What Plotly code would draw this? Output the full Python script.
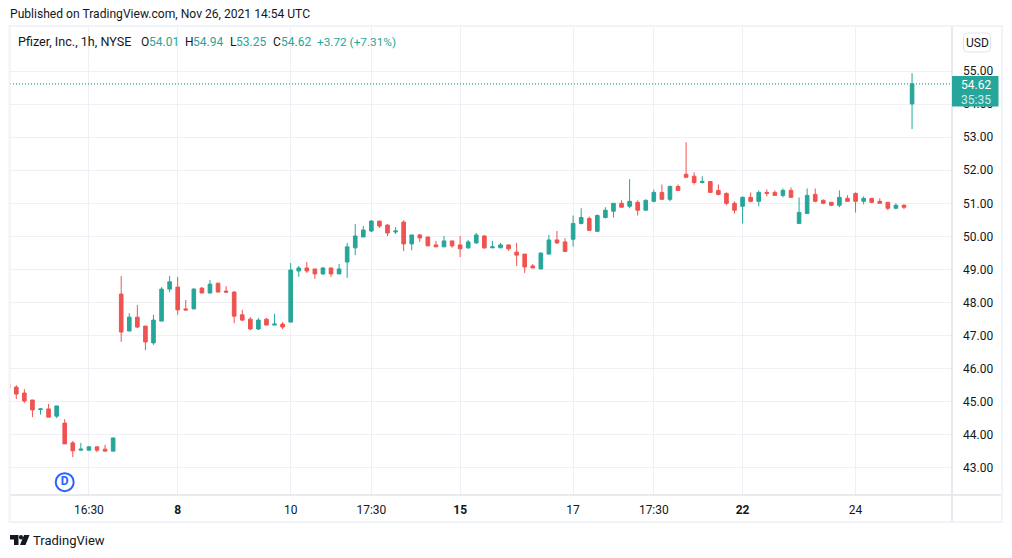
import plotly.graph_objects as go

bar_index = list(range(-1, 112))
opens = [45.52,
 45.43,45.25,45.04,44.75,44.77,44.55,44.34,43.74,43.52,43.52,
 43.62,43.55,43.49,48.25,47.13,47.55,47.28,46.77,47.43,48.40,
 48.46,47.80,47.80,48.43,48.28,48.58,48.34,48.31,47.62,47.49,
 47.19,47.49,47.31,47.34,47.40,48.95,49.04,49.01,48.86,49.04,
 48.86,49.22,49.65,49.98,50.16,50.46,50.34,50.13,50.43,49.77,
 50.04,49.98,49.74,49.68,49.86,49.74,49.65,49.80,50.01,49.65,
 49.65,49.74,49.52,49.46,49.10,49.01,49.46,49.89,49.83,49.91,
 50.39,50.54,50.15,50.57,50.76,51.00,50.91,51.03,50.79,51.06,
 51.33,51.12,51.51,51.88,51.82,51.63,51.66,51.39,51.30,51.00,
 50.91,51.18,51.06,51.33,51.33,51.24,51.39,50.39,50.69,51.27,
 51.09,51.03,50.94,51.15,51.30,51.06,51.15,51.06,51.03,50.85,
 50.94,54.01]
highs = [45.55,
 45.49,45.37,45.04,44.80,44.92,44.86,44.46,43.80,43.74,43.64,
 43.62,43.68,43.89,48.80,47.67,47.92,47.28,47.62,48.46,48.80,
 48.77,48.07,48.43,48.46,48.68,48.58,48.49,48.34,47.77,47.55,
 47.52,47.52,47.65,47.40,49.19,49.10,49.22,49.01,49.07,49.04,
 49.16,49.80,50.37,50.31,50.49,50.46,50.37,50.28,50.49,50.04,
 50.07,49.98,49.86,50.01,49.86,50.01,49.89,50.10,50.04,49.86,
 49.80,49.74,49.80,49.46,49.16,49.52,50.04,50.16,49.94,50.63,
 50.85,50.60,50.66,50.88,51.00,51.09,51.73,51.09,51.12,51.42,
 51.57,51.54,51.57,52.85,51.94,51.82,51.66,51.57,51.33,51.06,
 51.21,51.33,51.39,51.42,51.39,51.45,51.48,51.18,51.45,51.45,
 51.12,51.03,51.39,51.24,51.33,51.21,51.15,51.15,51.03,51.00,
 50.97,54.94]
lows = [45.40,
 45.07,44.95,44.52,44.60,44.52,44.49,43.71,43.31,43.50,43.50,
 43.46,43.49,43.49,46.80,47.13,47.22,46.55,46.71,47.43,48.31,
 47.62,47.74,47.80,48.28,48.28,48.31,48.28,47.37,47.43,47.16,
 47.16,47.31,47.31,47.19,47.40,48.77,48.89,48.71,48.83,48.77,
 48.86,48.74,49.43,49.98,50.13,50.25,50.01,50.07,49.55,49.58,
 49.83,49.71,49.68,49.68,49.65,49.37,49.62,49.77,49.62,49.65,
 49.65,49.56,49.10,48.89,49.04,49.01,49.46,49.77,49.54,49.69,
 50.36,50.18,50.15,50.54,50.57,50.88,50.85,50.63,50.79,51.03,
 51.12,51.06,51.39,51.76,51.57,51.60,51.33,51.24,50.94,50.69,
 50.39,51.03,50.91,51.21,51.24,51.18,51.18,50.39,50.69,51.03,
 50.97,50.91,50.88,51.06,50.72,50.97,51.00,51.00,50.79,50.82,
 50.82,53.25]
closes = [45.40,
 45.22,45.01,44.74,44.77,44.52,44.86,43.71,43.50,43.55,43.62,
 43.52,43.49,43.89,47.10,47.55,47.25,46.80,47.46,48.40,48.62,
 47.77,47.77,48.40,48.28,48.55,48.31,48.31,47.58,47.46,47.19,
 47.46,47.31,47.34,47.25,48.98,49.04,48.95,48.86,49.04,48.86,
 49.01,49.68,50.01,50.19,50.46,50.31,50.10,50.16,49.77,50.04,
 49.95,49.71,49.68,49.86,49.71,49.62,49.83,50.04,49.65,49.68,
 49.74,49.62,49.43,49.07,49.04,49.49,49.89,49.80,49.54,50.39,
 50.57,50.18,50.63,50.79,51.00,50.88,51.06,50.79,51.09,51.33,
 51.12,51.51,51.39,51.79,51.63,51.66,51.33,51.27,51.00,50.79,
 51.18,51.06,51.33,51.30,51.24,51.39,51.18,50.72,51.24,51.06,
 51.00,50.94,51.18,51.06,51.06,51.15,51.03,51.00,50.85,50.94,
 50.88,54.62]

time_tick_index = [9, 20, 34, 44, 55, 69, 79, 90, 104]
time_tick_text = ["16:30", "<b>8</b>", "10", "17:30", "<b>15</b>", "17", "17:30", "<b>22</b>", "24"]
price_ticks = list(range(43, 56))
price_tick_text = [f"{p}.00" for p in price_ticks]

UP, DOWN = "#26a69a", "#ef5350"
INK, GRID, EDGE = "#131722", "#eef0f5", "#e0e3eb"
FONT = "Roboto"
W, H = 1012, 558
ML, MR, MT, MB = 10, 60, 27, 63


def fx(px):
    return (px - ML) / (W - ML - MR)


def fy(py):
    return 1 - (py - MT) / (H - MT - MB)


fig = go.Figure()
fig.add_trace(go.Candlestick(
    x=bar_index, open=opens, high=highs, low=lows, close=closes,
    increasing=dict(line=dict(color=UP, width=1), fillcolor=UP),
    decreasing=dict(line=dict(color=DOWN, width=1), fillcolor=DOWN),
    whiskerwidth=0, hoverinfo="skip",
))
fig.add_trace(go.Scatter(
    x=[6], y=[42.55], mode="markers+text", text=["<b>D</b>"],
    textposition="middle center", textfont=dict(color="#2962ff", size=12, family=FONT),
    marker=dict(size=18, color="white", line=dict(color="#2962ff", width=2)),
    hoverinfo="skip", cliponaxis=False,
))

shapes = [
    dict(type="line", xref="paper", yref="y", x0=0, x1=1, y0=closes[-1], y1=closes[-1],
         line=dict(color=UP, width=1.4, dash="1px,2px"), layer="above"),
    dict(type="line", xref="paper", yref="paper", x0=1, x1=1, y0=fy(522), y1=1,
         line=dict(color=EDGE, width=1.5)),
    dict(type="line", xref="paper", yref="paper", x0=0, x1=fx(1002), y0=0, y1=0,
         line=dict(color=EDGE, width=1.5)),
    dict(type="rect", xref="paper", yref="paper", x0=fx(9.5), x1=fx(1002), y0=fy(522), y1=fy(26),
         line=dict(color="#f0f3fa", width=2)),
    dict(type="rect", xref="paper", yref="paper", x0=fx(952), x1=fx(998.5), y0=fy(106.5), y1=fy(76),
         fillcolor=UP, line=dict(width=0), layer="above"),
]
# rounded USD button
bx0, bx1, by0, by1, r = 963.5, 990.5, 33, 52, 4
shapes.append(dict(
    type="path", xref="paper", yref="paper", layer="above",
    path=(f"M {fx(bx0+r)} {fy(by0)} L {fx(bx1-r)} {fy(by0)} Q {fx(bx1)} {fy(by0)} {fx(bx1)} {fy(by0+r)} "
          f"L {fx(bx1)} {fy(by1-r)} Q {fx(bx1)} {fy(by1)} {fx(bx1-r)} {fy(by1)} "
          f"L {fx(bx0+r)} {fy(by1)} Q {fx(bx0)} {fy(by1)} {fx(bx0)} {fy(by1-r)} "
          f"L {fx(bx0)} {fy(by0+r)} Q {fx(bx0)} {fy(by0)} {fx(bx0+r)} {fy(by0)} Z"),
    line=dict(color=EDGE, width=1), fillcolor="white"))
# TradingView logo
logo = [
    [(10, 535), (18.5, 535), (18.5, 545), (14, 545), (14, 539.5), (10, 539.5)],
    [(24, 535), (29.5, 535), (25.5, 545), (20, 545)],
]
for poly in logo:
    path = "M " + " L ".join(f"{fx(a)} {fy(b)}" for a, b in poly) + " Z"
    shapes.append(dict(type="path", xref="paper", yref="paper", path=path,
                       fillcolor=INK, line=dict(width=0)))
shapes.append(dict(type="circle", xref="paper", yref="paper", x0=fx(19), x1=fx(23), y0=fy(539.5), y1=fy(535),
                   fillcolor=INK, line=dict(width=0)))


def note(px, py, text, color=INK, size=12, anchor="left"):
    return dict(xref="paper", yref="paper", x=fx(px), y=fy(py), text=text, showarrow=False,
                xanchor=anchor, yanchor="middle", borderpad=0, borderwidth=0,
                font=dict(family=FONT, size=size, color=color))


annotations = [
    note(10, 14, "Published on TradingView.com, Nov 26, 2021 14:54 UTC", size=12.1),
    note(18, 41.5, "Pfizer, Inc., 1h, NYSE", size=12.6),
    note(141, 41.5, "O"), note(149, 41.5, "54.01", UP),
    note(185, 41.5, "H"), note(193, 41.5, "54.94", UP),
    note(230, 41.5, "L"), note(236, 41.5, "53.25", UP),
    note(273, 41.5, "C"), note(281, 41.5, "54.62", UP),
    note(317, 41.5, "+3.72 (+7.31%)", UP, size=11.8),
    note(977, 42.5, "USD", anchor="center"),
    note(976, 85, f"{closes[-1]:.2f}", "white", anchor="center"),
    note(976, 99.5, "35:35", "#d4edeb", anchor="center"),
    note(33, 540, "TradingView", INK, 13),
]

fig.update_layout(
    width=W, height=H, margin=dict(l=ML, r=MR, t=MT, b=MB, autoexpand=False),
    paper_bgcolor="white", plot_bgcolor="white", showlegend=False, boxgap=0.36,
    font=dict(family=FONT, size=12, color=INK), shapes=shapes, annotations=annotations,
    xaxis=dict(range=[-0.78, 115.95], rangeslider=dict(visible=False), tickmode="array",
               tickvals=time_tick_index, ticktext=time_tick_text, showgrid=True, gridcolor=GRID,
               gridwidth=1, zeroline=False, showline=False, ticks="", ticklabelstandoff=6,
               tickfont=dict(family=FONT, size=12, color=INK)),
    yaxis=dict(range=[42.161, 56.342], side="right", tickmode="array", tickvals=price_ticks,
               ticktext=price_tick_text, showgrid=True, gridcolor=GRID, gridwidth=1, zeroline=False,
               showline=False, ticks="", ticklabelstandoff=10,
               tickfont=dict(family=FONT, size=12, color=INK)),
)

fig.write_html("out.html", config=dict(displayModeBar=False),
               post_script="document.body.style.margin='0';")
